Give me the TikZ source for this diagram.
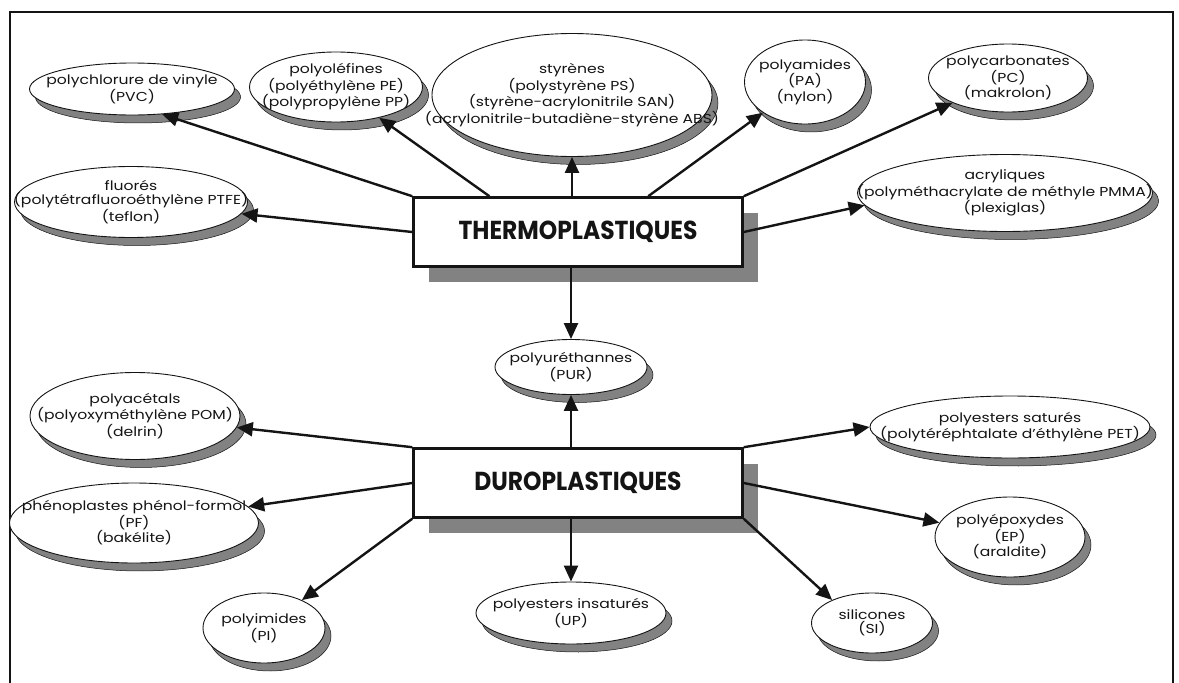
\documentclass[tikz,border=0pt]{standalone}
\usepackage{fontspec}
\setmainfont{Poppins}[FakeStretch=1.2]
\newfontfamily\boxfont{Poppins}[FakeStretch=0.9]
\usetikzlibrary{shapes.geometric,arrows.meta}
\definecolor{cShade}{RGB}{130,130,130}
\definecolor{cEdge}{RGB}{20,20,20}
\tikzset{
  oval/.style={ellipse, draw=cEdge, line width=0.9pt, fill=white, inner sep=0pt},
  ovalshade/.style={fill=cShade, draw=cEdge, line width=0.5pt},
  lbl/.style={
    align=center, inner sep=0pt, text=cEdge,
    font=\fontsize{13}{14.5}\selectfont,
  },
  plastbox/.style={
    rectangle, draw=cEdge, line width=2.6pt, fill=white, inner sep=0pt,
    minimum width=329pt, minimum height=69pt, text=cEdge,
    font=\boxfont\bfseries\fontsize{26}{28}\selectfont,
  },
  boxshade/.style={rectangle, fill=cShade, inner sep=0pt, minimum width=329pt, minimum height=69pt},
  arr/.style={-{Triangle[length=16pt,width=14pt]}, line width=2.4pt, draw=cEdge},
  frame/.style={line width=2.8pt, draw=cEdge},
}
% name, x, y, width, height, text
\newcommand{\ovalnode}[6]{%
  \path[ovalshade] plot[domain=0:360, samples=90, variable=\t]
    ({#2+6+#4/2*cos(\t)}, {#3+8+#5/2*sin(\t)}) -- cycle;
  \node[oval, minimum width=#4pt, minimum height=#5pt] (#1) at (#2,#3) {};
  \node[lbl] (#1-t) at (#1) {#6};
}

\begin{document}
\begin{tikzpicture}[x=1pt, y=-1pt]
\useasboundingbox (0,0) rectangle (1179,683);
\draw[frame] (10,683) -- (10,12) -- (1173,12) -- (1173,683);

% the two families
\node[boxshade] (thermo-s) at (593,247) {};
\node[plastbox] (thermo) at (578,232) {THERMOPLASTIQUES};
\node[boxshade] (duro-s) at (593,498) {};
\node[plastbox] (duro) at (578,483) {DUROPLASTIQUES};

% thermoplastics
\ovalnode{pvc}{132}{89}{205}{52}{polychlorure de vinyle\\(PVC)}
\ovalnode{olef}{336}{87}{173}{70}{polyoléfines\\(polyéthylène PE)\\(polypropylène PP)}
\ovalnode{styr}{572}{95}{280}{123}{styrènes\\(polystyrène PS)\\(styrène-acrylonitrile SAN)\\(acrylonitrile-butadiène-styrène ABS)}
\ovalnode{pa}{805}{82}{121}{84}{polyamides\\(PA)\\(nylon)}
\ovalnode{pc}{1008}{78}{159}{68}{polycarbonates\\(PC)\\(makrolon)}
\ovalnode{acryl}{1005}{193}{295}{77}{acryliques\\(polyméthacrylate de méthyle PMMA)\\(plexiglas)}
\ovalnode{fluo}{131}{202}{233}{71}{fluorés\\(polytétrafluoroéthylène PTFE)\\(teflon)}
\ovalnode{pur}{571}{367}{152}{55}{polyuréthannes\\(PUR)}

% thermosets
\ovalnode{pom}{135}{416}{210}{87}{polyacétals\\(polyoxyméthylène POM)\\(delrin)}
\ovalnode{pf}{134}{523}{249}{80}{phénoplastes phénol-formol\\(PF)\\(bakélite)}
\ovalnode{pi}{264}{628}{122}{70}{polyimides\\(PI)}
\ovalnode{up}{571}{613}{190}{62}{polyesters insaturés\\(UP)}
\ovalnode{sil}{872}{623}{121}{60}{silicones\\(SI)}
\ovalnode{ep}{1010}{537}{150}{80}{polyépoxydes\\(EP)\\(araldite)}
\ovalnode{pet}{1010}{427}{280}{62}{polyesters saturés\\(polytéréphtalate d'éthylène PET)}

% arrows from THERMOPLASTIQUES
\draw[arr] (thermo.north west) -- (pvc.-40);
\draw[arr] (thermo.158) -- (olef);
\draw[arr] (thermo.north -| styr) -- (styr);
\draw[arr] (thermo.27) -- (pa);
\draw[arr] (thermo.north east) -- (pc);
\draw[arr] (thermo.east) -- (acryl.185);
\draw[arr] (thermo.west) -- (fluo);
\draw[arr] (thermo.south -| pur) -- (pur);

% arrows from DUROPLASTIQUES
\draw[arr] (duro.north west) -- (pom);
\draw[arr] (duro.west) -- (pf);
\draw[arr] (duro.south west) -- (pi);
\draw[arr] (duro.north -| pur) -- (pur);
\draw[arr] (duro.south -| up) -- (up);
\draw[arr] (duro.north east) -- (pet.west);
\draw[arr] (duro.east) -- (ep);
\draw[arr] (duro.south east) -- (sil.150);

\end{tikzpicture}
\end{document}
